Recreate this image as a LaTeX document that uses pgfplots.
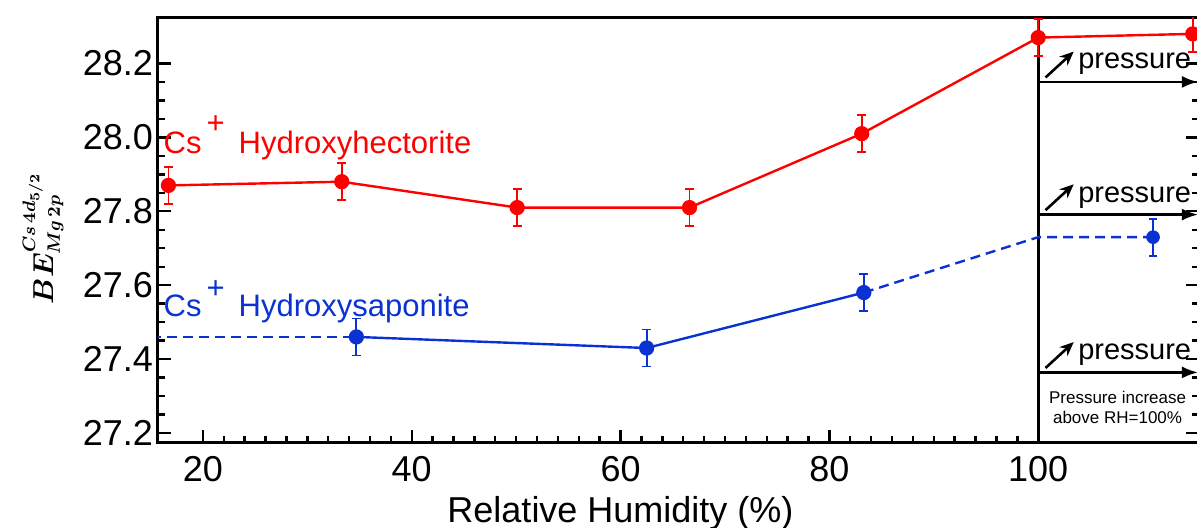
\documentclass[border=0pt]{standalone}
\usepackage{fontspec}
\setmainfont{Liberation Sans}
\usepackage{amsmath}
\usepackage{pgfplots}
\pgfplotsset{compat=1.18}
\usetikzlibrary{arrows.meta}
\definecolor{cred}{RGB}{255,0,0}
\definecolor{cblue}{RGB}{10,50,210}

\begin{document}
\begin{tikzpicture}
\begin{axis}[
    scale only axis,
    width=520.5pt, height=212.5pt,
    xmin=15.7, xmax=115.4,
    ymin=27.173, ymax=28.323,
    xtick={20,40,60,80,100},
    minor x tick num=9,
    ytick={27.2,27.4,27.6,27.8,28.0,28.2},
    minor y tick num=3,
    xtick pos=bottom,
    ytick pos=both,
    yticklabel pos=left,
    tick align=inside,
    major tick length=6.5pt, minor tick length=3.5pt,
    axis line style={line width=1.5pt},
    every tick/.style={black, line width=1.2pt},
    tick label style={font=\fontsize{18}{21}\selectfont},
    xticklabel style={yshift=-3pt},
    yticklabel style={xshift=1pt, /pgf/number format/.cd, fixed, fixed zerofill, precision=1},
    /pgf/number format/assume math mode=true,
    xlabel={Relative Humidity (\%)},
    xlabel style={at={(rel axis cs:0.4443,0)}, anchor=center, yshift=-35pt,
        font=\fontsize{18}{21}\selectfont},
    ylabel={$\boldsymbol{BE^{Cs\,4d_{5/2}}_{Mg\,2p}}$},
    ylabel style={at={(rel axis cs:0,0.482)}, anchor=center, yshift=57.5pt,
        font=\fontsize{13.5}{16}\selectfont},
    clip=true,
]
\coordinate (sw) at (rel axis cs:0,0);
\coordinate (ne) at (rel axis cs:1,1);

% line at RH = 100 % and the pressure arrows
\draw[line width=1.5pt] (axis cs:100,27.173) -- (axis cs:100,28.323);
\draw[line width=1.2pt, -{Latex[length=8pt,width=6pt]}] (axis cs:100,28.150) -- (axis cs:115.3,28.150);
\draw[line width=1.2pt, -{Latex[length=8pt,width=6pt]}] (axis cs:100,27.791) -- (axis cs:115.3,27.791);
\draw[line width=1.2pt, -{Latex[length=8pt,width=6pt]}] (axis cs:100,27.364) -- (axis cs:115.3,27.364);
\draw[line width=1.3pt, -{Stealth[length=7pt,width=6pt]}] (axis cs:100.7,28.162) -- (axis cs:103.4,28.232);
\draw[line width=1.3pt, -{Stealth[length=7pt,width=6pt]}] (axis cs:100.7,27.803) -- (axis cs:103.4,27.873);
\draw[line width=1.3pt, -{Stealth[length=7pt,width=6pt]}] (axis cs:100.7,27.376) -- (axis cs:103.4,27.446);
\node[anchor=west, inner sep=0pt, font=\fontsize{14.5}{16}\selectfont] at (axis cs:103.8,28.198) {pressure};
\node[anchor=west, inner sep=0pt, font=\fontsize{14.5}{16}\selectfont] at (axis cs:103.8,27.838) {pressure};
\node[anchor=west, inner sep=0pt, font=\fontsize{14.5}{16}\selectfont] at (axis cs:103.8,27.411) {pressure};
\node[align=center, inner sep=0pt, font=\fontsize{8.5}{10}\selectfont] at (axis cs:107.6,27.269) {Pressure increase\\above RH=100\%};

% Cs+ hydroxyhectorite
\addplot[cred, line width=1.2pt, mark=*, mark size=3.2pt,
    error bars/.cd, y dir=both, y explicit,
    error bar style={line width=0.9pt},
    error mark options={rotate=90, mark size=2.2pt, line width=0.9pt}]
coordinates {
    (16.7,27.87) +- (0,0.05)
    (33.3,27.88) +- (0,0.05)
    (50.1,27.81) +- (0,0.05)
    (66.6,27.81) +- (0,0.05)
    (83.1,28.01) +- (0,0.05)
    (100.0,28.27) +- (0,0.05)
    (114.8,28.28) +- (0,0.05)
};

% Cs+ hydroxysaponite
\addplot[cblue, line width=1.2pt, dash pattern=on 5pt off 3pt] coordinates {
    (15.0,27.46) (34.7,27.46)
};
\addplot[cblue, line width=1.2pt, dash pattern=on 5pt off 3pt] coordinates {
    (83.3,27.58) (100.0,27.73) (111.0,27.73)
};
\addplot[cblue, line width=1.2pt, mark=*, mark size=3.2pt,
    error bars/.cd, y dir=both, y explicit,
    error bar style={line width=0.9pt},
    error mark options={rotate=90, mark size=2.2pt, line width=0.9pt}]
coordinates {
    (34.7,27.46) +- (0,0.05)
    (62.5,27.43) +- (0,0.05)
    (83.3,27.58) +- (0,0.05)
};
\addplot[cblue, only marks, mark=*, mark size=3.2pt,
    error bars/.cd, y dir=both, y explicit,
    error bar style={line width=0.9pt},
    error mark options={rotate=90, mark size=2.2pt, line width=0.9pt}]
coordinates {
    (111.0,27.73) +- (0,0.05)
};

\node[anchor=west, inner sep=0pt, text=cred, font=\fontsize{15.5}{18}\selectfont]
    at (axis cs:16.2,28.0) {Cs\,\raisebox{0.65em}{+}\hspace{0.45em}Hydroxyhectorite};
\node[anchor=west, inner sep=0pt, text=cblue, font=\fontsize{15.5}{18}\selectfont]
    at (axis cs:16.2,27.555) {Cs\,\raisebox{0.6em}{+}\hspace{0.45em}Hydroxysaponite};
\end{axis}

\pgfresetboundingbox
\path ([xshift=-79pt, yshift=-42.5pt]sw) rectangle ([xshift=-1pt, yshift=9pt]ne);
\end{tikzpicture}
\end{document}
